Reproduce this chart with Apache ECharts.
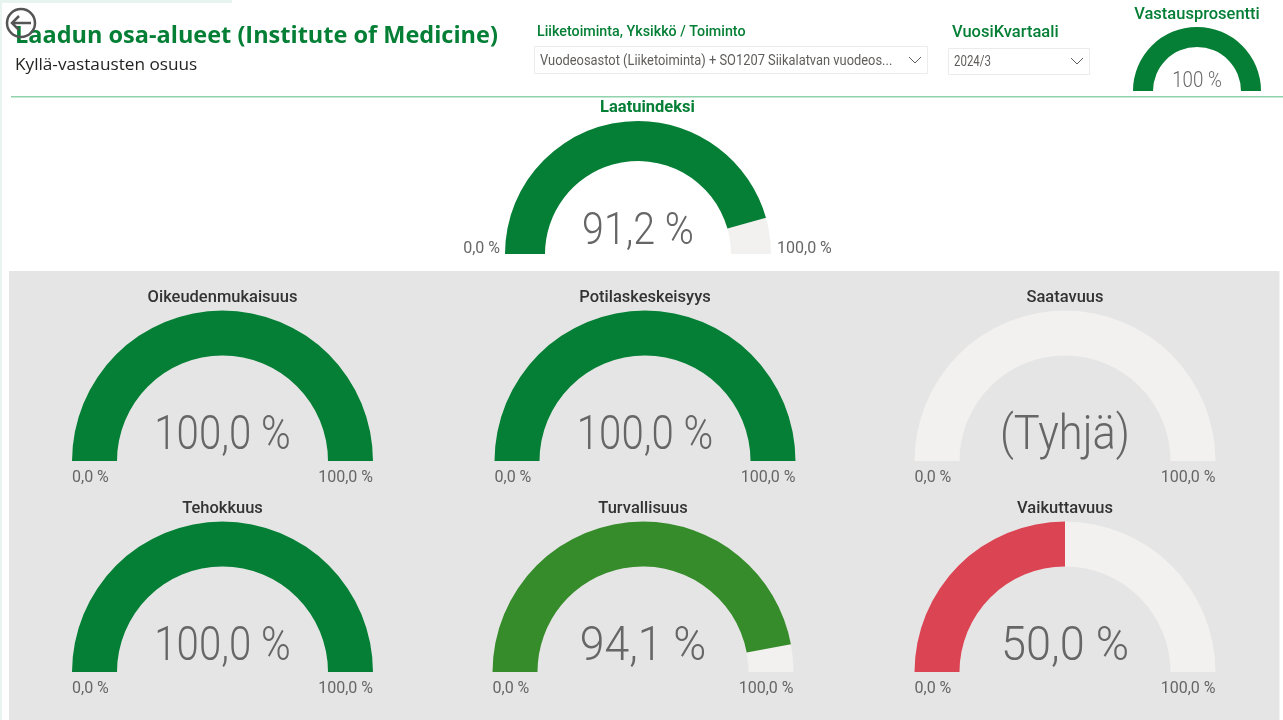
<!DOCTYPE html>
<html><head><meta charset="utf-8">
<style>html,body{margin:0;padding:0;background:#fff}#c{width:1283px;height:720px}</style>
<script src="https://cdn.jsdelivr.net/npm/echarts@6/dist/echarts.min.js"></script>
</head><body><div id="c"></div>
<script>
const gaugeNames = ['Laatuindeksi','Oikeudenmukaisuus','Potilaskeskeisyys','Saatavuus','Tehokkuus','Turvallisuus','Vaikuttavuus'];
const gaugeValues = [91.2,100,100,null,100,94.1,50];
const gaugeColors = ['#047F35','#047F35','#047F35','#047F35','#047F35','#368B2A','#DA4453'];
const responseName = 'Vastausprosentti';
const responseValue = 100;
const emptyLabel = '(Tyhjä)';
const minLabel = '0,0 %';
const maxLabel = '100,0 %';
const pageTitle = 'Laadun osa-alueet (Institute of Medicine)';
const pageSubtitle = 'Kyllä-vastausten osuus';
const slicer1Title = 'Liiketoiminta, Yksikkö / Toiminto';
const slicer1Value = 'Vuodeosastot (Liiketoiminta) + SO1207 Siikalatvan vuodeos...';
const slicer2Title = 'VuosiKvartaali';
const slicer2Value = '2024/3';

const layouts = [
 {cx:638,by:254,r:133,w:40,fs:45,vy:233,sx:.875,tx:647.5,ty:108,tc:'#047F35'},
 {cx:222.5,by:461,r:150.5,w:45,fs:49,vy:437,sx:.82,ty:298,tc:'#333'},
 {cx:645,by:461,r:150.5,w:45,fs:49,vy:437,sx:.82,ty:298,tc:'#333'},
 {cx:1065,by:461,r:150.5,w:45,fs:49,vy:437,sx:.885,ty:298,tc:'#333'},
 {cx:222.5,by:672,r:150.5,w:45,fs:49,vy:648,sx:.82,ty:509,tc:'#333'},
 {cx:643,by:672,r:150.5,w:45,fs:49,vy:648,sx:.91,ty:509,tc:'#333'},
 {cx:1065,by:672,r:150.5,w:45,fs:49,vy:648,sx:.92,ty:509,tc:'#333'}
];
const DIN = 'Roboto,sans-serif';
const UI = '"Open Sans","Noto Sans",sans-serif';
const track = '#F2F1EF';

function gauge(value, color, cx, by, r, w){
  return {
    type:'gauge', startAngle:180, endAngle:0, min:0, max:100, silent:true,
    center:[cx,by], radius:r,
    axisLine:{roundCap:false,lineStyle:{width:w,color:[[1,track]]}},
    progress:{show:true,width:w,roundCap:false,clip:false,itemStyle:{color}},
    pointer:{show:false},axisTick:{show:false},splitLine:{show:false},axisLabel:{show:false},
    title:{show:false},anchor:{show:false},detail:{show:false},
    animation:false,
    data:[{value:value==null?0:value}]
  };
}
function fmt(v){return v==null?emptyLabel:v.toFixed(1).replace('.',',')+' %';}

const series = gaugeValues.map((v,i)=>{const L=layouts[i];return gauge(v,gaugeColors[i],L.cx,L.by,L.r,L.w);});
series.push(gauge(responseValue,'#047F35',1197,91,64,20));

const g = [];
function txt(x,y,t,font,size,color,align,weight,sx){
  g.push({type:'text',x,y,scaleX:sx||1,z:10,style:{text:t,fontFamily:font,fontSize:size,fill:color,align:align||'left',verticalAlign:'middle',fontWeight:weight||400}});
}
function rect(x,y,w,h,fill,stroke){
  g.push({type:'rect',z:stroke?2:1,shape:{x,y,width:w,height:h},style:{fill,stroke:stroke||null,lineWidth:1}});
}
rect(0,0,232,3,'#E8F4EF');
rect(0,0,2,720,'#E8F4EF');
rect(9,271,1270.5,449,'#E5E5E5');
rect(11,96,1272,1.5,'#8FD2AC');
g.push({type:'circle',z:20,shape:{cx:21,cy:23,r:14},style:{fill:'rgba(255,255,255,0)',stroke:'#555',lineWidth:2.5}});
g.push({type:'polyline',z:20,shape:{points:[[19,16],[12,23],[19,30]]},style:{fill:null,stroke:'#555',lineWidth:2.5}});
g.push({type:'line',z:20,shape:{x1:12,y1:23,x2:31,y2:23},style:{stroke:'#555',lineWidth:2.5}});
txt(15,36,pageTitle,UI,23.5,'#047F35','left',700);
txt(15,65,pageSubtitle,UI,17.2,'#252423');
txt(537,32,slicer1Title,DIN,14.5,'#047F35','left',500,.985);
rect(534.5,46.5,393,27,'#fff','#ECECEC');
txt(540,61,slicer1Value,DIN,14,'#605E5C','left',400,.92);
g.push({type:'polyline',z:5,shape:{points:[[909,57],[915,63],[921,57]]},style:{fill:null,stroke:'#605E5C',lineWidth:1}});
txt(952,33,slicer2Title,DIN,17,'#047F35','left',500,.97);
rect(948.5,48.5,141,26,'#fff','#ECECEC');
txt(954,62,slicer2Value,DIN,14,'#605E5C','left',400,.82);
g.push({type:'polyline',z:5,shape:{points:[[1071,58],[1077,64],[1083,58]]},style:{fill:null,stroke:'#605E5C',lineWidth:1}});
txt(1197,15,responseName,DIN,17,'#047F35','center',500,.97);
txt(1197,81,responseValue+' %',DIN,22,'#666','center',300,.85);

gaugeNames.forEach((n,i)=>{
  const L=layouts[i];
  txt(L.tx||L.cx,L.ty,n,DIN,17,L.tc,'center',i===0?700:500,.97);
  txt(L.cx,L.vy,fmt(gaugeValues[i]),DIN,L.fs,'#666','center',300,L.sx);
  if(i===0){
    txt(500,249,minLabel,DIN,16,'#666','right');
    txt(777,249,maxLabel,DIN,16,'#666','left');
  } else {
    txt(L.cx-L.r,L.by+17,minLabel,DIN,16,'#666','left');
    txt(L.cx+L.r,L.by+17,maxLabel,DIN,16,'#666','right');
  }
});

const chart = echarts.init(document.getElementById('c'),null,{renderer:'canvas'});
chart.setOption({animation:false,backgroundColor:'#fff',graphic:{elements:g},series});
</script></body></html>
